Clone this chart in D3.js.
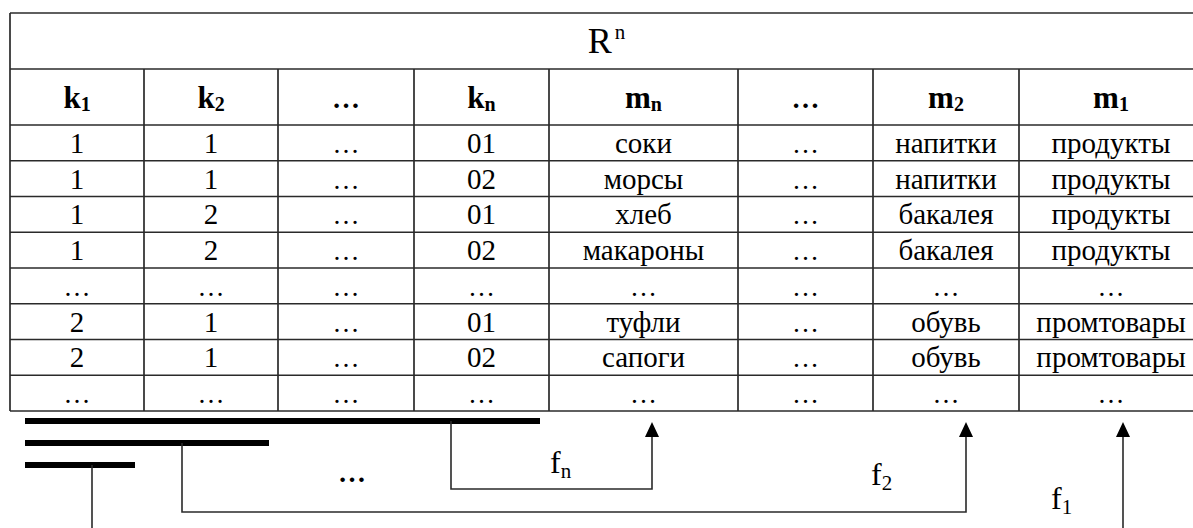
<!DOCTYPE html>
<html><head><meta charset="utf-8">
<script src="https://cdn.jsdelivr.net/npm/d3@7"></script>
<style>html,body{margin:0;padding:0;background:#fff;}svg{display:block;}</style>
</head><body>
<svg id="c" width="1193" height="528"></svg>
<script>
// ---- data ----
const titleBase = "R";
const titleSup = "n";
const headerBase = ["k","k","…","k","m","…","m","m"];
const headerSub  = ["1","2","","n","n","","2","1"];
const colK1   = ["1","1","1","1","…","2","2","…"];
const colK2   = ["1","1","2","2","…","1","1","…"];
const colD1   = ["…","…","…","…","…","…","…","…"];
const colKn   = ["01","02","01","02","…","01","02","…"];
const colMn   = ["соки","морсы","хлеб","макароны","…","туфли","сапоги","…"];
const colD2   = ["…","…","…","…","…","…","…","…"];
const colM2   = ["напитки","напитки","бакалея","бакалея","…","обувь","обувь","…"];
const colM1   = ["продукты","продукты","продукты","продукты","…","промтовары","промтовары","…"];
const funcSub = ["n","2","1"];          // f_n, f_2, f_1
const keyCol  = [3,1,0];                 // key column each bar spans to (kn, k2, k1)
const targetCol = [4,6,7];               // target column (mn, m2, m1)
const middleDots = "…";

// ---- layout ----
const columns = [colK1,colK2,colD1,colKn,colMn,colD2,colM2,colM1];
const svg = d3.select("#c");
const FONT = "'Liberation Serif','Times New Roman',serif";
const LINE = "#2a2a2a";
const x = d3.scaleLinear().domain(d3.range(9)).range([10,144,278,414,549,738,873,1019,1203]);
const y = d3.scaleLinear().domain([0,8]).range([125,411]);
const tableTop = 13, headTop = 69;

// grid lines
const g = svg.append("g").attr("stroke",LINE).attr("stroke-width",1.7).attr("fill","none");
[tableTop, headTop].concat(d3.range(9).map(i=>y(i))).forEach(yy=>{
  g.append("line").attr("x1",x(0)).attr("x2",x(8)).attr("y1",yy).attr("y2",yy);
});
g.append("line").attr("x1",x(0)).attr("x2",x(0)).attr("y1",tableTop).attr("y2",y(8));
d3.range(1,9).forEach(i=>{
  g.append("line").attr("x1",x(i)).attr("x2",x(i)).attr("y1",headTop).attr("y2",y(8));
});

// title
const t = svg.append("text").attr("x",(x(0)+x(8))/2).attr("y",53)
  .attr("text-anchor","middle").attr("font-family",FONT).attr("fill","#000");
t.append("tspan").attr("font-size",36).text(titleBase);
t.append("tspan").attr("font-size",21).attr("dy",-14).attr("dx",3).text(titleSup);

// headers
headerBase.forEach((b,i)=>{
  const tx = svg.append("text").attr("x",(x(i)+x(i+1))/2).attr("y",108)
    .attr("text-anchor","middle").attr("font-family",FONT).attr("font-weight","bold").attr("fill","#000");
  tx.append("tspan").attr("font-size",b==="…"?28:31).text(b);
  if(headerSub[i]) tx.append("tspan").attr("font-size",20).attr("dy",3).text(headerSub[i]);
});

// cells
columns.forEach((col,ci)=>{
  svg.append("g").selectAll("text").data(col).join("text")
    .attr("x",(x(ci)+x(ci+1))/2)
    .attr("y",(d,ri)=>y(ri+1)-8)
    .attr("text-anchor","middle").attr("font-family",FONT)
    .attr("font-size",d=>d==="…"?27:29).attr("fill","#000")
    .text(d=>d);
});

// key bars + connectors
const barY = [421,443,465];
const dropX = [451,182,92];
const turnY = [489,512,540];
const arrowX = [652,966,1123];
const tipY = 422;
funcSub.forEach((s,i)=>{
  svg.append("line").attr("x1",25).attr("x2",x(keyCol[i]+1)-9)
    .attr("y1",barY[i]).attr("y2",barY[i]).attr("stroke","#000").attr("stroke-width",6);
  svg.append("path")
    .attr("d",`M${dropX[i]},${barY[i]}V${turnY[i]}H${arrowX[i]}V${tipY+14}`)
    .attr("fill","none").attr("stroke",LINE).attr("stroke-width",1.6);
  svg.append("path")
    .attr("d",`M${arrowX[i]},${tipY}L${arrowX[i]-7},${tipY+15}L${arrowX[i]+7},${tipY+15}Z`)
    .attr("fill","#000");
});
// function labels
const labelPos = [[550,473],[871,485],[1051,509]];
funcSub.forEach((s,i)=>{
  const tx = svg.append("text").attr("x",labelPos[i][0]).attr("y",labelPos[i][1])
    .attr("font-family",FONT).attr("fill","#000");
  tx.append("tspan").attr("font-size",32).text("f");
  tx.append("tspan").attr("font-size",21).attr("dy",5).text(s);
});
svg.append("text").attr("x",352).attr("y",482).attr("text-anchor","middle")
  .attr("font-family",FONT).attr("font-weight","bold").attr("font-size",28).attr("fill","#000").text(middleDots);
</script>
</body></html>
